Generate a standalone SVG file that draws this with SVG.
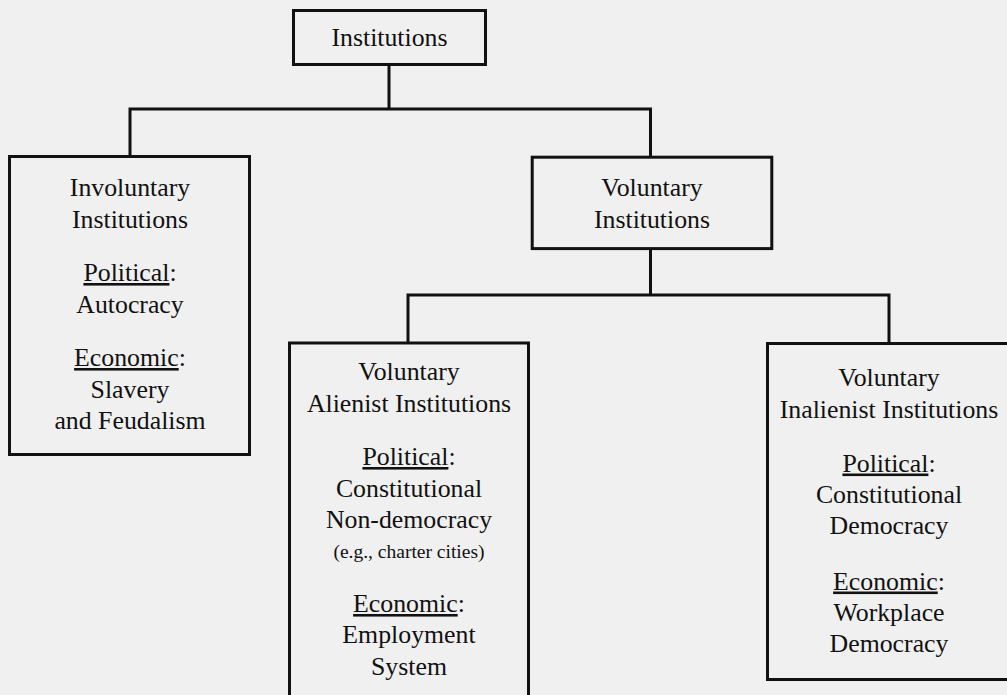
<svg xmlns="http://www.w3.org/2000/svg" width="1007" height="695" viewBox="0 0 1007 695">
<style>
  .box { fill: none; stroke: #111; stroke-width: 3; }
  .conn { fill: none; stroke: #111; stroke-width: 3; }
  text { font-family: "Liberation Serif", "Times New Roman", serif; font-size: 25.8px; fill: #111; text-anchor: middle; }
  .small { font-size: 19.5px; }
  .u { text-decoration: underline; }
</style>
<rect x="0" y="0" width="1007" height="695" fill="#f0f0f0"/>
<g id="connectors">
  <path class="conn" d="M389,66 V109"/>
  <path class="conn" d="M130,156 V109 H650.5 V156"/>
  <path class="conn" d="M650.5,250 V295"/>
  <path class="conn" d="M408,342 V295 H889 V342"/>
</g>
<g id="institutions">
  <rect class="box" x="293.5" y="10.5" width="192" height="54"/>
  <text x="389.5" y="46">Institutions</text>
</g>
<g id="involuntary">
  <rect class="box" x="9.5" y="156.5" width="240" height="298"/>
  <text x="130" y="196">Involuntary</text>
  <text x="130" y="228">Institutions</text>
  <text x="130" y="281"><tspan class="u">Political</tspan>:</text>
  <text x="130" y="313">Autocracy</text>
  <text x="130" y="366"><tspan class="u">Economic</tspan>:</text>
  <text x="130" y="398">Slavery</text>
  <text x="130" y="429">and Feudalism</text>
</g>
<g id="voluntary">
  <rect class="box" x="532.2" y="157.2" width="239.6" height="91.4"/>
  <text x="652" y="196">Voluntary</text>
  <text x="652" y="228.3">Institutions</text>
</g>
<g id="alienist">
  <rect class="box" x="289.5" y="343" width="239" height="400"/>
  <text x="409" y="380">Voluntary</text>
  <text x="409" y="412">Alienist Institutions</text>
  <text x="409" y="465"><tspan class="u">Political</tspan>:</text>
  <text x="409" y="497">Constitutional</text>
  <text x="409" y="528">Non-democracy</text>
  <text class="small" x="409" y="558">(e.g., charter cities)</text>
  <text x="409" y="612"><tspan class="u">Economic</tspan>:</text>
  <text x="409" y="643">Employment</text>
  <text x="409" y="675">System</text>
</g>
<g id="inalienist">
  <rect class="box" x="767.5" y="343.5" width="250" height="336"/>
  <text x="889" y="386">Voluntary</text>
  <text x="889" y="417.7">Inalienist Institutions</text>
  <text x="889" y="471.5"><tspan class="u">Political</tspan>:</text>
  <text x="889" y="503">Constitutional</text>
  <text x="889" y="534">Democracy</text>
  <text x="889" y="589.5"><tspan class="u">Economic</tspan>:</text>
  <text x="889" y="621">Workplace</text>
  <text x="889" y="652">Democracy</text>
</g>
</svg>
